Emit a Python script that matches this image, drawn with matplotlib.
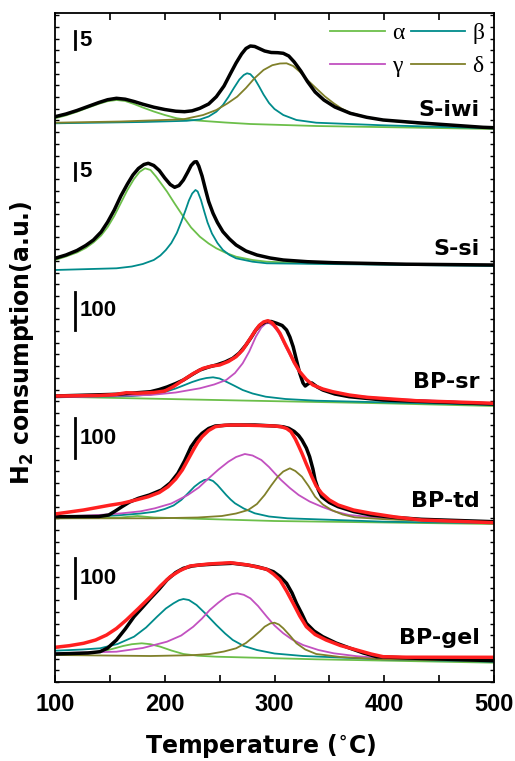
import numpy as np
import matplotlib
matplotlib.use("Agg")
import matplotlib.pyplot as plt
from matplotlib.lines import Line2D
from matplotlib.ticker import MultipleLocator

plt.rcParams["mathtext.default"] = "regular"

# curves: (temperature degC, height above panel baseline)
# ---- S-iwi ----
siwi_black = [(100, 8.3), (110, 11), (120, 14.5), (130, 18.5), (140, 22.5), (148, 25.3), (156, 26.7),
              (164, 25.8), (172, 23.5), (180, 20.8), (190, 17.8), (200, 15.5), (210, 13.8), (218, 13.3),
              (225, 14.2), (232, 16.7), (240, 21), (247, 28.3), (254, 39), (260, 51.7), (265, 62),
              (270, 71), (274, 76.5), (278, 79), (282, 78.5), (286, 76.5), (291, 74), (297, 72.5),
              (303, 72.3), (308, 71.7), (313, 69), (318, 63), (324, 54), (330, 43.5), (337, 33),
              (345, 25), (355, 18), (369, 11.7), (384, 7.7), (399, 5), (430, 2.3), (460, 0),
              (490, -2.3), (500, -2.7)]
siwi_alpha = [(100, 6.7), (110, 9.6), (120, 13.2), (130, 17.3), (140, 21.2), (148, 23.8), (156, 25),
              (164, 24), (172, 21), (180, 17.5), (190, 13.5), (200, 10), (211, 6.7), (222, 5.1),
              (232, 4.3), (255, 2.5), (278, 1), (338, -1), (420, -2.5), (500, -4)]
siwi_beta = [(100, 1.7), (180, 3), (220, 4.2), (232, 5.5), (240, 8.5), (247, 13.3), (253, 20),
             (258, 28), (263, 37), (268, 45.5), (272, 50), (275, 51.7), (278, 50.8), (282, 46),
             (286, 38.5), (290, 30.5), (295, 22), (300, 16), (308, 10), (320, 5), (338, 2.3),
             (399, -0.3), (500, -3.3)]
siwi_delta = [(100, 2.3), (160, 3.5), (217, 5.7), (235, 10), (247, 15), (257, 21.5), (266, 28.3),
              (274, 37), (282, 47), (290, 55), (298, 59.8), (305, 61.5), (311, 61.7), (317, 59),
              (323, 53.3), (330, 45), (338, 36.7), (346, 28.5), (354, 21.7), (361, 16.5), (369, 12.3),
              (384, 7.8), (399, 5), (430, 1.7), (500, -3)]

# ---- S-si ----
ssi_black = [(100, 6.7), (110, 10), (120, 14.5), (128, 19.5), (135, 25), (142, 33), (148, 43),
             (154, 55), (160, 69), (166, 81), (171, 90), (176, 96.5), (181, 100.5), (185, 101.7),
             (190, 99.5), (195, 94.5), (200, 87), (205, 80.5), (209, 77.7), (213, 79.5), (217, 85),
             (221, 93), (224, 99.5), (227, 103), (229, 103.3), (231, 99), (234, 89), (237, 76),
             (240, 63.5), (244, 51.7), (248, 42.5), (253, 33.3), (259, 26), (265, 20), (274, 14),
             (284, 10), (296, 7), (308, 5), (330, 3.3), (354, 2.3), (420, 0.8), (500, 0)]
ssi_alpha = [(100, 5), (110, 8.5), (120, 12.5), (128, 17), (135, 22.5), (142, 29.5), (148, 38),
             (154, 49), (160, 62), (166, 75), (172, 86), (177, 93), (182, 96.7), (187, 95),
             (192, 88.5), (197, 81), (202, 73.5), (209, 61.5), (217, 48.3), (224, 37.5), (232, 28.3),
             (240, 21.5), (247, 16.7), (256, 12), (265, 8.3), (280, 5), (293, 3.3), (330, 1.8),
             (369, 1), (500, -0.3)]
ssi_beta = [(100, -5), (156, -3.3), (170, -1.5), (180, 1), (190, 5), (196, 9.5), (201, 15), (206, 22),
            (211, 32), (215, 43), (219, 55), (222, 64.5), (225, 71.5), (228, 75), (230, 73.5),
            (233, 65), (236, 53.5), (239, 42.5), (243, 31.5), (248, 22), (253, 15), (259, 10),
            (265, 6.7), (280, 3.3), (293, 1.7), (500, -1)]

# ---- BP-sr ----
bpsr_black = [(100, 4), (156, 5.7), (187, 8.3), (195, 10.5), (202, 13), (210, 16.5), (217, 20),
              (225, 25.5), (232, 30), (240, 33), (247, 35), (255, 38), (262, 41.7), (268, 47),
              (274, 55), (279, 63), (283, 70), (287, 75), (292, 78.3), (297, 78.5), (302, 76.7),
              (307, 74.5), (311, 70), (314, 63), (317, 53.3), (320, 40), (323, 26.7), (326, 17),
              (328, 14), (331, 16.5), (334, 17), (339, 13), (344, 10), (355, 6), (368, 3.3),
              (399, 0), (500, -4)]
bpsr_red = [(100, 4), (140, 4.5), (155, 5.5), (165, 7.3), (175, 6.8), (190, 7.5), (200, 9),
            (208, 13.5), (217, 20), (226, 26.5), (235, 31.7), (243, 34), (250, 35), (258, 38.5),
            (265, 43.3), (271, 50), (277, 60), (282, 68.5), (286, 74.5), (290, 78), (294, 79.3),
            (298, 77), (302, 71.5), (305, 66.7), (309, 57.5), (314, 46.7), (318, 37.5), (323, 28.3),
            (329, 20.5), (335, 15), (344, 11), (353, 8.3), (368, 5), (384, 2.7), (429, -0.7),
            (500, -3.3)]
bpsr_alpha = [(100, 3.3), (278, -0.7), (399, -3.3), (500, -6)]
bpsr_beta = [(100, 2.7), (170, 4), (187, 5.5), (200, 8), (210, 11.5), (217, 14.5), (225, 18),
             (232, 20.5), (238, 22), (244, 22.7), (250, 21.5), (256, 18.3), (263, 14.5), (271, 10),
             (280, 6.5), (292, 3.3), (310, 1), (338, -0.7), (500, -5)]
bpsr_gamma = [(100, 2.7), (187, 5), (210, 7.5), (232, 11.7), (245, 15.5), (256, 20), (264, 27),
              (271, 36.7), (277, 48.5), (283, 63.3), (288, 72.5), (292, 76.5), (295, 77), (299, 74),
              (303, 68.5), (306, 62.5), (310, 53.5), (314, 45), (318, 36.5), (323, 26.7), (330, 19),
              (338, 13.3), (350, 8.5), (368, 5), (400, 1.5), (429, 0), (500, -3.3)]

# ---- BP-td ----
bptd_black = [(100, 3.3), (140, 3.5), (149, 5), (155, 9), (161, 13.3), (168, 18), (176, 21.7),
              (186, 25), (197, 30), (205, 37), (212, 46.7), (218, 59), (224, 73.3), (229, 81),
              (234, 86.7), (240, 91.5), (246, 94), (260, 95), (282, 95), (300, 94), (308, 93.2),
              (313, 91.7), (318, 88.5), (322, 84.5), (325, 80), (329, 72), (332, 63.3), (335, 51),
              (337, 40), (340, 30), (343, 23.3), (350, 17.5), (358, 13.3), (372, 8.5), (388, 5),
              (410, 2.5), (434, 0.7), (500, -1.7)]
bptd_red = [(100, 6), (113, 8), (126, 10), (140, 12.8), (150, 14.8), (161, 16.7), (173, 19.8),
            (185, 23.3), (195, 27.5), (203, 33.3), (210, 41), (216, 50), (221, 60), (226, 70),
            (230, 77.5), (234, 83.3), (240, 89.5), (246, 93.3), (255, 94.8), (267, 95), (285, 94.5),
            (300, 94), (306, 93.3), (311, 91.5), (315, 88.3), (319, 81), (322, 74), (325, 66.7),
            (329, 56), (334, 43.3), (338, 34), (343, 26.7), (350, 20), (358, 15), (372, 10),
            (388, 6.7), (410, 3), (434, 0), (500, -2.7)]
bptd_alpha = [(100, 1.7), (160, 2.5), (175, 4), (190, 2.5), (300, -1), (500, -4)]
bptd_beta = [(100, 2.7), (140, 3.8), (161, 5), (178, 6.5), (191, 8.3), (200, 11), (208, 14.5),
             (215, 20), (221, 26.5), (227, 33.3), (232, 37.5), (236, 40), (240, 40.7), (244, 39),
             (248, 35), (252, 30), (256, 25), (260, 20.5), (264, 16.7), (272, 11.5), (282, 6.7),
             (295, 3.5), (312, 1.7), (400, -1.7), (500, -3.3)]
bptd_gamma = [(100, 3.3), (140, 5), (161, 6.7), (178, 8.7), (191, 11.7), (206, 16.5), (221, 25),
              (231, 32.5), (240, 41.7), (249, 50.5), (258, 58.3), (265, 63), (273, 66), (280, 64.5),
              (288, 60), (295, 53), (300, 47), (306, 40), (314, 32), (322, 25), (332, 18.5),
              (343, 13.3), (355, 8.5), (368, 5), (400, 1.7), (434, 0), (500, -2.7)]
bptd_delta = [(100, 1.7), (191, 1.7), (230, 2.5), (252, 4), (265, 6.5), (276, 10), (284, 16),
              (291, 25), (297, 34.5), (303, 43.3), (308, 48.5), (314, 51.7), (319, 49), (325, 43.3),
              (331, 34), (337, 23.3), (344, 15.5), (352, 10), (362, 5.5), (373, 2.7), (400, 0.8),
              (434, -0.7), (500, -2.7)]

# ---- BP-gel ----
bpgel_black = [(100, 4), (130, 5), (141, 6.3), (148, 10), (156, 18), (164, 29), (172, 41.3),
               (180, 51), (187, 59.7), (195, 69), (202, 78), (210, 85.5), (217, 89.7), (225, 92),
               (232, 93), (247, 94), (262, 94.7), (275, 93), (284, 91.3), (292, 89), (299, 86.3),
               (305, 81.5), (311, 74.7), (316, 65), (320, 54.7), (325, 44), (329, 34.7), (336, 27),
               (344, 21.3), (356, 15), (369, 9.7), (381, 5), (393, 1.3), (429, -0.3), (500, -2.7)]
bpgel_red = [(100, 10.7), (113, 12.3), (126, 14.7), (137, 18), (147, 23), (156, 29.5), (165, 38),
             (176, 49.5), (187, 61.3), (196, 72), (205, 81.3), (214, 87.5), (223, 92), (240, 94),
             (260, 95.3), (276, 93), (286, 90.5), (293, 88.7), (299, 84), (305, 78), (311, 67),
             (317, 54.7), (323, 42), (329, 31.3), (337, 23.5), (347, 18), (360, 12.5), (375, 8),
             (388, 4), (399, 1.3), (420, 0.8), (500, 0.7)]
bpgel_alpha = [(100, 4), (125, 5.2), (141, 6.3), (152, 9), (162, 12), (170, 13.8), (179, 14.7),
               (187, 13.8), (196, 11.3), (206, 7.5), (217, 4), (230, 2.3), (247, 1.3), (338, -1.3),
               (500, -4.7)]
bpgel_beta = [(100, 7.3), (125, 8.5), (141, 9.7), (157, 14), (172, 21.3), (183, 30.5), (193, 41.3),
              (201, 49.5), (208, 54.7), (213, 57.8), (217, 59), (222, 58), (229, 53), (237, 44.5),
              (247, 33), (255, 24.5), (262, 18), (272, 12), (284, 8), (300, 4.5), (326, 2),
              (399, -1.3), (500, -3.7)]
bpgel_gamma = [(100, 4.7), (156, 6.3), (180, 10), (202, 16.3), (215, 22.5), (226, 31.3), (234, 39.5),
               (241, 48), (249, 55.5), (256, 61.3), (261, 63.8), (266, 64.7), (272, 63.2), (278, 59.7),
               (285, 52), (293, 41.3), (300, 32.5), (308, 24.7), (316, 18.5), (326, 13), (340, 8),
               (354, 4.7), (375, 1.8), (399, -0.3), (500, -2.7)]
bpgel_delta = [(100, 3), (187, 2), (225, 2.8), (241, 4), (254, 6.5), (265, 9.7), (274, 15), (281, 21.3),
               (287, 27), (291, 31.3), (296, 34.5), (300, 35.3), (304, 33.5), (308, 29.7), (314, 22.5),
               (320, 14.7), (328, 8.5), (338, 4), (360, 1), (399, -1.3), (500, -3)]

sample_names = ["S-iwi", "S-si", "BP-sr", "BP-td", "BP-gel"]
offsets = [557, 417, 282, 162, 24]
scale_labels = ["5", "5", "100", "100", "100"]
scale_bars = [(633, 651), (502, 519), (352, 390), (224, 264), (84, 124)]
name_heights = [572, 433, 300, 181, 44]

c_alpha = "#6cbf4a"
c_beta = "#008b8b"
c_gamma = "#c251c0"
c_delta = "#80802a"
c_red = "#ff2020"

panels = [
    [(siwi_alpha, c_alpha), (siwi_beta, c_beta), (siwi_delta, c_delta), (siwi_black, "k")],
    [(ssi_alpha, c_alpha), (ssi_beta, c_beta), (ssi_black, "k")],
    [(bpsr_alpha, c_alpha), (bpsr_beta, c_beta), (bpsr_gamma, c_gamma), (bpsr_black, "k"), (bpsr_red, c_red)],
    [(bptd_alpha, c_alpha), (bptd_beta, c_beta), (bptd_gamma, c_gamma), (bptd_delta, c_delta),
     (bptd_black, "k"), (bptd_red, c_red)],
    [(bpgel_alpha, c_alpha), (bpgel_beta, c_beta), (bpgel_gamma, c_gamma), (bpgel_delta, c_delta),
     (bpgel_black, "k"), (bpgel_red, c_red)],
]

fig = plt.figure(figsize=(5.15, 7.61), dpi=100)
ax = fig.add_axes([55 / 515, 79 / 761, 439 / 515, 669 / 761])

for curves, off in zip(panels, offsets):
    for pts, col in curves:
        t = np.array([p[0] for p in pts])
        v = np.array([p[1] for p in pts]) + off
        lw = 2.5 if col in ("k", c_red) else 1.3
        ax.plot(t, v, color=col, lw=lw, solid_joinstyle="round", solid_capstyle="round")

for name, off, lab, bar, nh in zip(sample_names, offsets, scale_labels, scale_bars, name_heights):
    ax.plot([118.5, 118.5], bar, color="k", lw=2)
    ax.text(122, (bar[0] + bar[1]) / 2, lab, ha="left", va="center",
            fontfamily="Liberation Sans", fontweight="bold", fontsize=16)
    ax.text(487, nh, name, ha="right", va="center",
            fontfamily="DejaVu Sans", fontweight="bold", fontsize=16)

handles = [Line2D([], [], color=c_alpha, lw=1.3), Line2D([], [], color=c_gamma, lw=1.3),
           Line2D([], [], color=c_beta, lw=1.3), Line2D([], [], color=c_delta, lw=1.3)]
ax.legend(handles, ["\u03b1", "\u03b3", "\u03b2", "\u03b4"], ncol=2, loc="upper right",
          bbox_to_anchor=(1.0, 1.0), frameon=False, handlelength=2.3, handletextpad=0.3,
          columnspacing=0.3, labelspacing=0.5, borderaxespad=0,
          prop={"family": "Liberation Serif", "size": 17})

ax.set_xlim(100, 500)
ax.set_ylim(0, 669)
ax.xaxis.set_major_locator(MultipleLocator(100))
ax.xaxis.set_minor_locator(MultipleLocator(50))
ax.yaxis.set_major_locator(MultipleLocator(11.7))
ax.tick_params(axis="x", which="both", direction="in", length=5, width=1.2, top=True, pad=8)
ax.tick_params(axis="y", which="both", direction="in", length=3, width=1, right=True, labelleft=False)
for lbl in ax.get_xticklabels():
    lbl.set_fontfamily("Liberation Sans")
    lbl.set_fontweight("bold")
    lbl.set_fontsize(17)
for s in ax.spines.values():
    s.set_linewidth(1.3)

fig.text(261 / 515, 1 - 746 / 761, "Temperature ($^{\\circ}$C)", ha="center", va="center",
         fontfamily="DejaVu Sans", fontweight="bold", fontsize=17)
fig.text(22 / 515, 1 - 343 / 761, "H$_2$ consumption(a.u.)", ha="center", va="center", rotation=90,
         fontfamily="DejaVu Sans", fontweight="bold", fontsize=17)

fig.savefig("out.png", dpi=100)
